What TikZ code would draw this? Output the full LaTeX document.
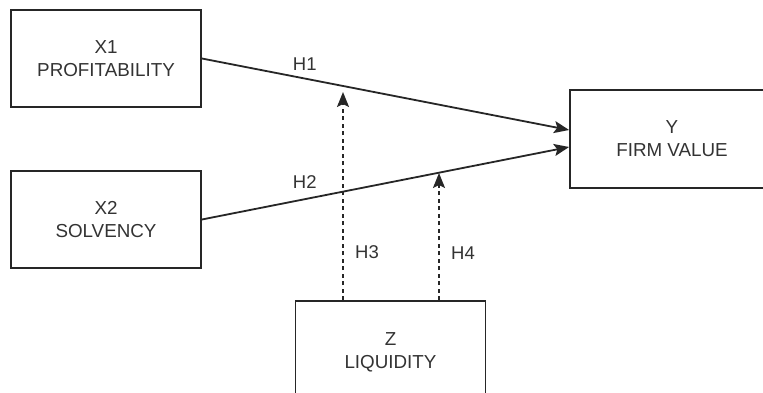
\documentclass[tikz,border=0pt]{standalone}
\usepackage{fontspec}
\setmainfont{Liberation Sans}
\usetikzlibrary{arrows.meta}
\tikzset{
  varbox/.style={draw=black!85,line width=1.8pt,rectangle,inner sep=0pt,
    minimum width=190pt,minimum height=97pt,align=center,text=black!80,text depth=0pt,
    font=\fontsize{18.8}{23}\selectfont},
  hyplabel/.style={text=black!80,font=\fontsize{18.5}{22}\selectfont},
  path/.style={draw=black!85,line width=1.8pt,-{Stealth[length=15pt,width=12pt,inset=3pt]}},
  modpath/.style={path,dash pattern=on 4pt off 3.5pt}
}
\begin{document}
\begin{tikzpicture}[x=1pt,y=-1pt]
\clip(0,0) rectangle (763,393);
\fill[white](0,0) rectangle (763,393);
\node[varbox](X1) at (106,58.5) {X1\\PROFITABILITY};
\node[varbox](X2) at (106,219.5) {X2\\SOLVENCY};
\node[varbox,minimum width=204pt,minimum height=98pt](Y) at (672,139) {Y\\FIRM VALUE};
\node[varbox,minimum height=100pt](Z) at (390.5,351) {Z\\LIQUIDITY};
% end points of the moderating arrows
\coordinate(h3end) at (343,92);
\coordinate(h4end) at (439,173);
\draw[path](X1.east)--([yshift=9pt]Y.west)node[pos=0.28,above=4pt,hyplabel]{H1};
\draw[path](X2.east)--([yshift=-8pt]Y.west)node[pos=0.28,above=6pt,hyplabel]{H2};
\draw[modpath]([xshift=-47.5pt]Z.north)--(h3end)node[pos=0.23,right=8pt,hyplabel]{H3};
\draw[modpath]([xshift=48.5pt]Z.north)--(h4end)node[pos=0.37,right=8pt,hyplabel]{H4};
\end{tikzpicture}
\end{document}
